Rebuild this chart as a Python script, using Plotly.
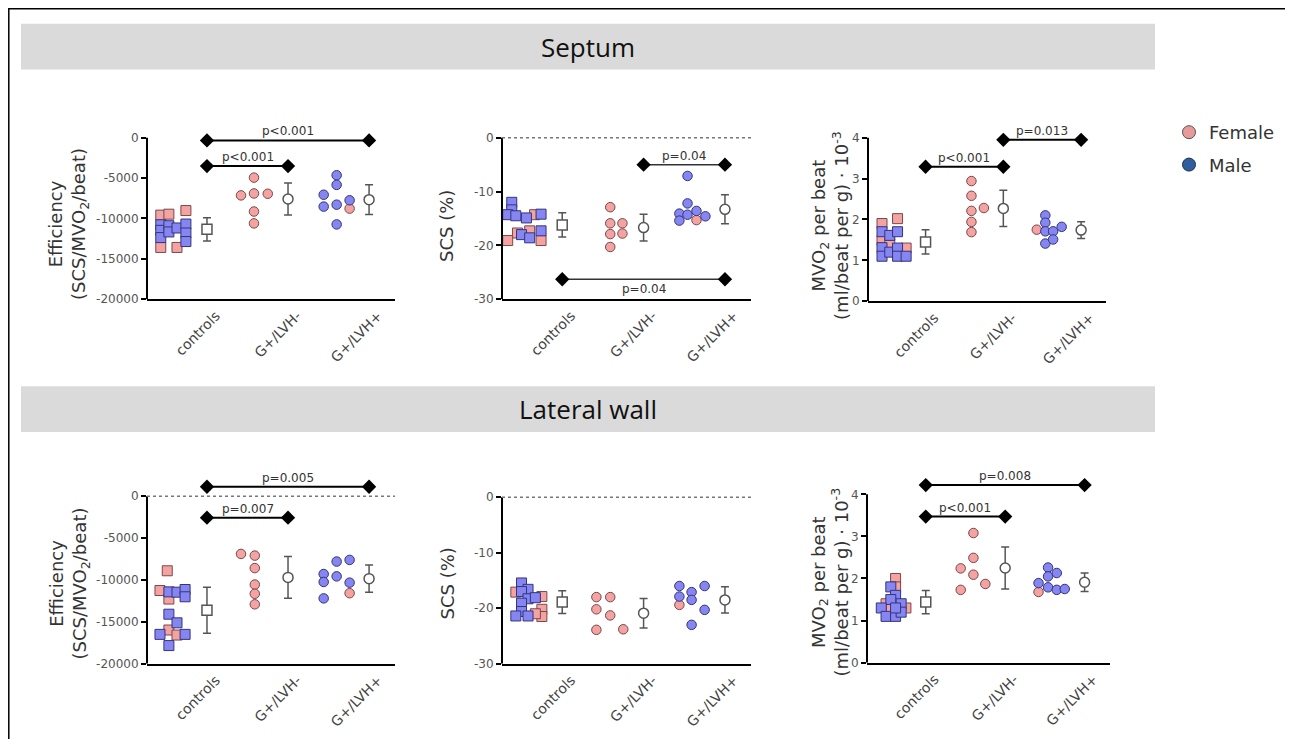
import plotly.graph_objects as go

groups = ["controls", "G+/LVH-", "G+/LVH+"]

# ---------------- data ----------------
# Septum - efficiency
sep_eff_values = [
    [-9590, -9470, -9020, -13590, -13590, -10780, -11470, -12370, -10900, -11670, -11180, -10690, -11800, -12860],
    [-4940, -7140, -6900, -6940, -9140, -10610],
    [-4650, -5840, -7060, -8530, -8290, -7750, -8780, -10740],
]
sep_eff_sex = ["FFFFFMMMMMMMMM", "FFFFFF", "MMMMMMFM"]
sep_eff_dx = [
    [-0.57, -0.47, -0.26, -0.57, -0.37, -0.57, -0.57, -0.57, -0.47, -0.47, -0.37, -0.26, -0.26, -0.26],
    [-0.42, -0.58, -0.42, -0.25, -0.42, -0.42],
    [-0.40, -0.40, -0.56, -0.56, -0.40, -0.24, -0.24, -0.40],
]
sep_eff_mean = [-11350, -7590, -7670]
sep_eff_sd = [1430, 1980, 1840]
sep_eff_brackets = [(0, 1, -3510, "p<0.001", "above"), (0, 2, -330, "p<0.001", "above")]

# Septum - SCS
sep_scs_values = [
    [-14.3, -17.7, -17.3, -19.1, -19.1, -12.0, -13.4, -14.3, -14.5, -14.9, -14.2, -18.0, -18.6, -17.3],
    [-12.9, -15.9, -15.9, -17.9, -17.8, -20.3],
    [-7.1, -12.2, -14.1, -14.3, -13.6, -14.6, -15.4, -15.3],
]
sep_scs_sex = ["FFFFFMMMMMMMMM", "FFFFFF", "MMMMMMMF"]
sep_scs_dx = [
    [-0.34, -0.55, -0.40, -0.67, -0.26, -0.62, -0.62, -0.67, -0.57, -0.44, -0.26, -0.50, -0.40, -0.26],
    [-0.41, -0.41, -0.26, -0.41, -0.26, -0.41],
    [-0.46, -0.46, -0.56, -0.46, -0.35, -0.24, -0.56, -0.35],
]
sep_scs_mean = [-16.2, -16.7, -13.3]
sep_scs_sd = [2.25, 2.5, 2.7]
sep_scs_brackets = [(1, 2, -5.0, "p=0.04", "above"), (0, 2, -26.3, "p=0.04", "below")]

# Septum - MVO2
sep_mvo_values = [
    [1.90, 1.49, 1.41, 2.02, 1.30, 1.70, 1.31, 1.10, 1.61, 1.20, 1.70, 1.30, 1.10, 1.10],
    [2.94, 2.58, 2.21, 2.28, 1.94, 1.69],
    [1.75, 2.10, 1.92, 1.71, 1.71, 1.82, 1.41, 1.51],
]
sep_mvo_sex = ["FFFFFMMMMMMMMM", "FFFFFF", "FMMMMMMM"]
sep_mvo_dx = [
    [-0.56, -0.56, -0.46, -0.36, -0.25, -0.56, -0.56, -0.56, -0.46, -0.46, -0.36, -0.36, -0.36, -0.25],
    [-0.41, -0.41, -0.41, -0.25, -0.41, -0.41],
    [-0.57, -0.46, -0.46, -0.46, -0.36, -0.25, -0.46, -0.36],
]
sep_mvo_mean = [1.45, 2.27, 1.74]
sep_mvo_sd = [0.295, 0.445, 0.205]
sep_mvo_brackets = [(0, 1, 3.29, "p<0.001", "above"), (1, 2, 3.95, "p=0.013", "above")]

# Lateral wall - efficiency
lat_eff_values = [
    [-8900, -11260, -12280, -15980, -16580, -11420, -11460, -11140, -12010, -14090, -15120, -16500, -16500, -17840],
    [-6890, -7090, -8580, -10550, -11650, -12910],
    [-9290, -10240, -12200, -7800, -9570, -7600, -10320, -11580],
]
lat_eff_sex = ["FFFFFMMMMMMMMM", "FFFFFF", "MMMMMMMF"]
lat_eff_dx = [
    [-0.49, -0.58, -0.47, -0.47, -0.37, -0.47, -0.37, -0.27, -0.27, -0.47, -0.37, -0.58, -0.27, -0.47],
    [-0.58, -0.41, -0.41, -0.41, -0.41, -0.41],
    [-0.56, -0.56, -0.56, -0.40, -0.40, -0.24, -0.24, -0.24],
]
lat_eff_mean = [-13620, -9690, -9840]
lat_eff_sd = [2760, 2500, 1630]
lat_eff_brackets = [(0, 1, -2560, "p=0.007", "above"), (0, 2, 1140, "p=0.005", "above")]

# Lateral wall - SCS
lat_scs_values = [
    [-17.1, -17.9, -20.2, -21.5, -21.0, -15.45, -16.6, -17.0, -18.3, -18.1, -19.1, -20.6, -21.4, -21.4],
    [-18.0, -18.0, -20.2, -21.3, -23.9, -23.8],
    [-16.0, -17.9, -19.4, -17.1, -18.5, -23.0, -16.0, -20.3],
]
lat_scs_sex = ["FFFFFMMMMMMMMM", "FFFFFF", "MMFMMMMM"]
lat_scs_dx = [
    [-0.57, -0.25, -0.25, -0.25, -0.33, -0.50, -0.42, -0.50, -0.42, -0.33, -0.50, -0.50, -0.57, -0.42],
    [-0.58, -0.41, -0.58, -0.41, -0.58, -0.25],
    [-0.56, -0.56, -0.56, -0.41, -0.41, -0.41, -0.25, -0.25],
]
lat_scs_mean = [-18.9, -20.9, -18.5]
lat_scs_sd = [2.05, 2.65, 2.35]
lat_scs_brackets = []

# Lateral wall - MVO2
lat_mvo_values = [
    [2.00, 1.80, 1.40, 1.30, 1.30, 1.80, 1.60, 1.50, 1.30, 1.40, 1.10, 1.10, 1.20, 1.30],
    [3.08, 2.49, 2.24, 2.09, 1.87, 1.73],
    [1.68, 1.89, 2.26, 2.05, 2.13, 1.79, 1.73, 1.75],
]
lat_mvo_sex = ["FFFFFMMMMMMMMM", "FFFFFF", "FMMMMMMM"]
lat_mvo_dx = [
    [-0.38, -0.38, -0.50, -0.44, -0.25, -0.44, -0.38, -0.44, -0.56, -0.31, -0.50, -0.38, -0.31, -0.38],
    [-0.40, -0.40, -0.56, -0.40, -0.25, -0.56],
    [-0.58, -0.58, -0.46, -0.46, -0.35, -0.46, -0.35, -0.25],
]
lat_mvo_mean = [1.44, 2.25, 1.91]
lat_mvo_sd = [0.275, 0.50, 0.22]
lat_mvo_brackets = [(0, 1, 3.47, "p<0.001", "above"), (0, 2, 4.22, "p=0.008", "above")]

eff_ticks = [0, -5000, -10000, -15000, -20000]
scs_ticks = [0, -10, -20, -30]
mvo_ticks = [0, 1, 2, 3, 4]

legend_labels = ["Female", "Male"]

# ---------------- styling / layout ----------------
EFF_TITLE = "Efficiency<br>(SCS/MVO<sub>2</sub>/beat)"
SCS_TITLE = "SCS (%)"
MVO_TITLE = "MVO<sub>2</sub> per beat<br>(ml/beat per g) · 10<sup>-3</sup>"

FONT = "DejaVu Sans"
PINK, PINK_EDGE = "#F4A3A3", "#7a4848"
BLUE, BLUE_EDGE = "#8686F2", "#34347a"

# the page body has an 8px margin: positions below are page pixels
OFF = 8
W, H = 1293 - OFF, 739 - OFF


def px(x):
    return (x - OFF) / W


def py(y):
    return 1 - (y - OFF) / H


panels = [
    dict(v=sep_eff_values, s=sep_eff_sex, dx=sep_eff_dx, m=sep_eff_mean, sd=sep_eff_sd, br=sep_eff_brackets,
         ticks=eff_ticks, title=EFF_TITLE, x0=147, x1=395, pmin=302, pmax=139, ymin=-20000, ymax=0, ytop=2500,
         zero=False, tx=69, ty=226, brw=2),
    dict(v=sep_scs_values, s=sep_scs_sex, dx=sep_scs_dx, m=sep_scs_mean, sd=sep_scs_sd, br=sep_scs_brackets,
         ticks=scs_ticks, title=SCS_TITLE, x0=502, x1=751, pmin=302, pmax=139, ymin=-30, ymax=0, ytop=3,
         zero=True, tx=447, ty=228, brw=1.5),
    dict(v=sep_mvo_values, s=sep_mvo_sex, dx=sep_mvo_dx, m=sep_mvo_mean, sd=sep_mvo_sd, br=sep_mvo_brackets,
         ticks=mvo_ticks, title=MVO_TITLE, x0=868, x1=1106, pmin=304, pmax=139, ymin=0, ymax=4, ytop=4.6,
         zero=False, tx=830, ty=227, brw=2),
    dict(v=lat_eff_values, s=lat_eff_sex, dx=lat_eff_dx, m=lat_eff_mean, sd=lat_eff_sd, br=lat_eff_brackets,
         ticks=eff_ticks, title=EFF_TITLE, x0=147, x1=395, pmin=670, pmax=501, ymin=-20000, ymax=0, ytop=3500,
         zero=True, tx=69, ty=589, brw=2),
    dict(v=lat_scs_values, s=lat_scs_sex, dx=lat_scs_dx, m=lat_scs_mean, sd=lat_scs_sd, br=lat_scs_brackets,
         ticks=scs_ticks, title=SCS_TITLE, x0=502, x1=751, pmin=670, pmax=502, ymin=-30, ymax=0, ytop=3,
         zero=True, tx=447, ty=589, brw=2),
    dict(v=lat_mvo_values, s=lat_mvo_sex, dx=lat_mvo_dx, m=lat_mvo_mean, sd=lat_mvo_sd, br=lat_mvo_brackets,
         ticks=mvo_ticks, title=MVO_TITLE, x0=867, x1=1110, pmin=669, pmax=499, ymin=0, ymax=4, ytop=4.7,
         zero=False, tx=830, ty=587, brw=2),
]

XR = [-0.74, 2.32]

fig = go.Figure()
shapes = []
annotations = []
layout_axes = {}

for i, p in enumerate(panels, start=1):
    xs = "" if i == 1 else str(i)
    xref, yref = "x" + xs, "y" + xs
    scale = (p["pmin"] - p["pmax"]) / (p["ymax"] - p["ymin"])
    top_px = p["pmin"] - (p["ytop"] - p["ymin"]) * scale

    # individual points
    for g in range(3):
        sym = "square" if g == 0 else "circle"
        for sex, fill, edge in (("F", PINK, PINK_EDGE), ("M", BLUE, BLUE_EDGE)):
            xx = [g + d for d, s in zip(p["dx"][g], p["s"][g]) if s == sex]
            yy = [v for v, s in zip(p["v"][g], p["s"][g]) if s == sex]
            if not xx:
                continue
            fig.add_trace(go.Scatter(
                x=xx, y=yy, mode="markers", xaxis=xref, yaxis=yref, showlegend=False,
                marker=dict(symbol=sym, size=10 if g == 0 else 9.5, color=fill, line=dict(color=edge, width=1)),
                cliponaxis=False, hoverinfo="skip"))

    # mean +/- sd
    fig.add_trace(go.Scatter(
        x=[0, 1, 2], y=p["m"], mode="markers", xaxis=xref, yaxis=yref, showlegend=False,
        marker=dict(symbol=["square", "circle", "circle"], size=10, color="white",
                    line=dict(color="#555555", width=1.5)),
        error_y=dict(type="data", array=p["sd"], color="#555555", thickness=1.5, width=4),
        hoverinfo="skip"))

    # significance brackets
    for (g0, g1, yv, lab, pos) in p["br"]:
        fig.add_trace(go.Scatter(
            x=[g0, g1], y=[yv, yv], mode="lines+markers", xaxis=xref, yaxis=yref, showlegend=False,
            line=dict(color="black" if p["brw"] >= 2 else "#333333", width=p["brw"]),
            marker=dict(symbol="diamond", size=11, color="black"), cliponaxis=False, hoverinfo="skip"))
        annotations.append(dict(
            x=(g0 + g1) / 2, y=yv, xref=xref, yref=yref, text=lab, showarrow=False,
            yanchor="bottom" if pos == "above" else "top", yshift=0 if pos == "above" else -1,
            font=dict(family=FONT, size=12, color="#333333")))

    # y axis line from min to max value
    shapes.append(dict(type="line", xref=xref + " domain", yref=yref, x0=0, x1=0,
                       y0=p["ymin"], y1=p["ymax"], line=dict(color="black", width=2)))
    if p["zero"]:
        shapes.append(dict(type="line", xref=xref + " domain", yref=yref, x0=0, x1=1,
                           y0=0, y1=0, line=dict(color="#777777", width=1.5, dash="dot")))

    # y axis title
    annotations.append(dict(x=px(p["tx"]), y=py(p["ty"]), xref="paper", yref="paper", text=p["title"],
                            textangle=-90, showarrow=False, xanchor="center", yanchor="middle",
                            font=dict(family=FONT, size=18, color="#333333")))

    layout_axes["xaxis" + xs] = dict(
        domain=[px(p["x0"]), px(p["x1"])], range=XR, anchor=yref,
        showline=True, linecolor="black", linewidth=2, ticks="", showgrid=False, zeroline=False,
        tickvals=[0, 1, 2], ticktext=groups, tickangle=-45, ticklabelshift=9, ticklabelstandoff=1,
        tickfont=dict(family=FONT, size=14, color="#444444"), fixedrange=True)
    layout_axes["yaxis" + xs] = dict(
        domain=[py(p["pmin"]), py(top_px)], range=[p["ymin"], p["ytop"]], anchor=xref,
        showline=False, ticks="outside", ticklen=5, tickwidth=1.5, tickcolor="black",
        tickvals=p["ticks"], ticktext=[str(t) for t in p["ticks"]],
        showgrid=False, zeroline=False,
        tickfont=dict(family=FONT, size=12, color="#555555"),
        fixedrange=True)

# legend entries
for lab, fill, edge in zip(legend_labels, ["#E89A9A", "#2F5E9E"], ["#555555", "#1d2f55"]):
    fig.add_trace(go.Scatter(x=[None], y=[None], mode="markers", name=lab, legendgroup=lab,
                             marker=dict(symbol="circle", size=13, color=fill, line=dict(color=edge, width=1))))

# header bars and outer frame
shapes.append(dict(type="rect", xref="paper", yref="paper", x0=0.8 / W, x1=px(1287), y0=-0.05, y1=1 - 0.8 / H,
                   line=dict(color="black", width=1.5), fillcolor="rgba(0,0,0,0)", layer="below"))
for top, bot, txt in ((24, 70, "Septum"), (390, 436, "Lateral wall")):
    shapes.append(dict(type="rect", xref="paper", yref="paper", x0=px(21), x1=px(1155),
                       y0=py(bot), y1=py(top), fillcolor="#DADADA", line=dict(width=0), layer="below"))
    annotations.append(dict(x=px(588), y=py((top + bot) / 2), xref="paper", yref="paper", text=txt,
                            showarrow=False, xanchor="center", yanchor="middle",
                            font=dict(family="Open Sans", size=26, color="#111111")))

fig.update_layout(
    width=W, height=H, margin=dict(l=0, r=0, t=0, b=0),
    paper_bgcolor="white", plot_bgcolor="white",
    shapes=shapes, annotations=annotations,
    legend=dict(x=px(1169), y=py(115), xanchor="left", yanchor="top", tracegroupgap=6,
                font=dict(family=FONT, size=18, color="#333333"), bgcolor="rgba(0,0,0,0)"),
    **layout_axes)

fig.write_html("out.html")
